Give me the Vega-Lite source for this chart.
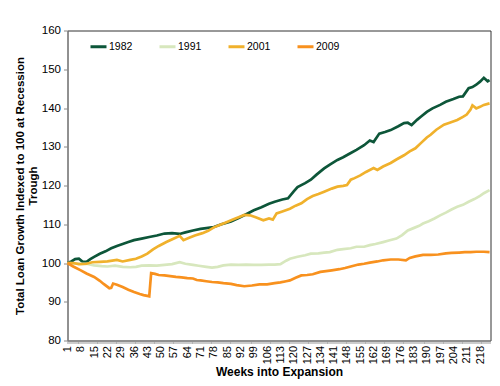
{
 "$schema": "https://vega.github.io/schema/vega-lite/v6.json",
 "width": 423, "height": 310,
 "autosize": "none",
 "padding": {"left": 67.5, "top": 30.5, "right": 9.5, "bottom": 45.5},
 "background": "white",
 "config": {"font": "Liberation Sans", "view": {"stroke": "#333", "strokeWidth": 1}},
 "data": {"values": [
{"s":"1982","w":1,"v":100},{"s":"1982","w":3,"v":100.4},{"s":"1982","w":5,"v":101},{"s":"1982","w":7,"v":101.1},{"s":"1982","w":9,"v":100.3},{"s":"1982","w":11,"v":100.3},{"s":"1982","w":13,"v":101},{"s":"1982","w":15,"v":101.6},{"s":"1982","w":18,"v":102.4},{"s":"1982","w":21,"v":103},{"s":"1982","w":24,"v":103.8},{"s":"1982","w":27,"v":104.4},{"s":"1982","w":30,"v":104.9},{"s":"1982","w":33,"v":105.4},{"s":"1982","w":36,"v":105.9},{"s":"1982","w":40,"v":106.3},{"s":"1982","w":44,"v":106.7},{"s":"1982","w":48,"v":107.1},{"s":"1982","w":52,"v":107.6},{"s":"1982","w":56,"v":107.7},{"s":"1982","w":60,"v":107.5},{"s":"1982","w":63,"v":107.9},{"s":"1982","w":67,"v":108.4},{"s":"1982","w":71,"v":108.8},{"s":"1982","w":74,"v":109},{"s":"1982","w":78,"v":109.3},{"s":"1982","w":82,"v":110},{"s":"1982","w":87,"v":110.7},{"s":"1982","w":91,"v":111.6},{"s":"1982","w":95,"v":112.6},{"s":"1982","w":99,"v":113.6},{"s":"1982","w":103,"v":114.4},{"s":"1982","w":107,"v":115.3},{"s":"1982","w":110,"v":115.8},{"s":"1982","w":114,"v":116.4},{"s":"1982","w":117,"v":116.7},{"s":"1982","w":120,"v":118.5},{"s":"1982","w":122,"v":119.6},{"s":"1982","w":126,"v":120.6},{"s":"1982","w":129,"v":121.5},{"s":"1982","w":132,"v":122.8},{"s":"1982","w":136,"v":124.4},{"s":"1982","w":139,"v":125.4},{"s":"1982","w":143,"v":126.6},{"s":"1982","w":146,"v":127.3},{"s":"1982","w":150,"v":128.4},{"s":"1982","w":153,"v":129.2},{"s":"1982","w":157,"v":130.4},{"s":"1982","w":160,"v":131.6},{"s":"1982","w":162,"v":131.2},{"s":"1982","w":165,"v":133.4},{"s":"1982","w":168,"v":133.8},{"s":"1982","w":171,"v":134.3},{"s":"1982","w":175,"v":135.3},{"s":"1982","w":178,"v":136.1},{"s":"1982","w":180,"v":136.2},{"s":"1982","w":182,"v":135.6},{"s":"1982","w":185,"v":137},{"s":"1982","w":187,"v":137.8},{"s":"1982","w":190,"v":139},{"s":"1982","w":193,"v":139.9},{"s":"1982","w":197,"v":140.8},{"s":"1982","w":200,"v":141.6},{"s":"1982","w":204,"v":142.3},{"s":"1982","w":207,"v":142.9},{"s":"1982","w":209,"v":143},{"s":"1982","w":212,"v":145.1},{"s":"1982","w":214,"v":145.4},{"s":"1982","w":216,"v":146},{"s":"1982","w":218,"v":146.8},{"s":"1982","w":220,"v":147.8},{"s":"1982","w":222,"v":146.9},{"s":"1982","w":223,"v":147.2},
{"s":"1991","w":1,"v":100},{"s":"1991","w":4,"v":99.9},{"s":"1991","w":8,"v":99.8},{"s":"1991","w":11,"v":99.8},{"s":"1991","w":15,"v":99.4},{"s":"1991","w":19,"v":99.2},{"s":"1991","w":22,"v":99.1},{"s":"1991","w":26,"v":99.3},{"s":"1991","w":30,"v":99},{"s":"1991","w":34,"v":98.9},{"s":"1991","w":37,"v":99},{"s":"1991","w":40,"v":99.3},{"s":"1991","w":44,"v":99.4},{"s":"1991","w":48,"v":99.3},{"s":"1991","w":52,"v":99.5},{"s":"1991","w":56,"v":99.7},{"s":"1991","w":60,"v":100.2},{"s":"1991","w":63,"v":99.8},{"s":"1991","w":67,"v":99.5},{"s":"1991","w":70,"v":99.3},{"s":"1991","w":74,"v":99},{"s":"1991","w":77,"v":98.8},{"s":"1991","w":80,"v":99},{"s":"1991","w":83,"v":99.4},{"s":"1991","w":87,"v":99.6},{"s":"1991","w":91,"v":99.5},{"s":"1991","w":95,"v":99.6},{"s":"1991","w":99,"v":99.5},{"s":"1991","w":103,"v":99.5},{"s":"1991","w":107,"v":99.6},{"s":"1991","w":110,"v":99.6},{"s":"1991","w":113,"v":99.7},{"s":"1991","w":116,"v":100.6},{"s":"1991","w":118,"v":101.1},{"s":"1991","w":122,"v":101.6},{"s":"1991","w":126,"v":102},{"s":"1991","w":129,"v":102.4},{"s":"1991","w":133,"v":102.5},{"s":"1991","w":136,"v":102.7},{"s":"1991","w":139,"v":102.8},{"s":"1991","w":143,"v":103.4},{"s":"1991","w":146,"v":103.6},{"s":"1991","w":150,"v":103.8},{"s":"1991","w":153,"v":104.2},{"s":"1991","w":157,"v":104.2},{"s":"1991","w":160,"v":104.6},{"s":"1991","w":163,"v":104.9},{"s":"1991","w":167,"v":105.4},{"s":"1991","w":170,"v":105.8},{"s":"1991","w":174,"v":106.3},{"s":"1991","w":177,"v":107.2},{"s":"1991","w":180,"v":108.4},{"s":"1991","w":183,"v":109},{"s":"1991","w":186,"v":109.6},{"s":"1991","w":188,"v":110.2},{"s":"1991","w":191,"v":110.8},{"s":"1991","w":194,"v":111.5},{"s":"1991","w":197,"v":112.3},{"s":"1991","w":200,"v":113},{"s":"1991","w":203,"v":113.8},{"s":"1991","w":206,"v":114.5},{"s":"1991","w":209,"v":115},{"s":"1991","w":212,"v":115.8},{"s":"1991","w":215,"v":116.5},{"s":"1991","w":218,"v":117.3},{"s":"1991","w":220,"v":118},{"s":"1991","w":223,"v":118.8},
{"s":"2001","w":1,"v":100},{"s":"2001","w":4,"v":100},{"s":"2001","w":7,"v":99.7},{"s":"2001","w":11,"v":99.8},{"s":"2001","w":14,"v":100.2},{"s":"2001","w":18,"v":100.3},{"s":"2001","w":22,"v":100.4},{"s":"2001","w":27,"v":100.8},{"s":"2001","w":30,"v":100.4},{"s":"2001","w":34,"v":100.8},{"s":"2001","w":37,"v":101.1},{"s":"2001","w":40,"v":101.7},{"s":"2001","w":43,"v":102.4},{"s":"2001","w":46,"v":103.5},{"s":"2001","w":49,"v":104.4},{"s":"2001","w":53,"v":105.4},{"s":"2001","w":57,"v":106.3},{"s":"2001","w":60,"v":107},{"s":"2001","w":62,"v":105.9},{"s":"2001","w":65,"v":106.5},{"s":"2001","w":68,"v":107.1},{"s":"2001","w":72,"v":107.7},{"s":"2001","w":75,"v":108.3},{"s":"2001","w":78,"v":109.2},{"s":"2001","w":81,"v":109.8},{"s":"2001","w":84,"v":110.4},{"s":"2001","w":88,"v":111.2},{"s":"2001","w":91,"v":111.8},{"s":"2001","w":94,"v":112.4},{"s":"2001","w":97,"v":112.3},{"s":"2001","w":100,"v":111.8},{"s":"2001","w":102,"v":111.4},{"s":"2001","w":104,"v":111},{"s":"2001","w":107,"v":111.5},{"s":"2001","w":109,"v":111.2},{"s":"2001","w":111,"v":112.8},{"s":"2001","w":114,"v":113.3},{"s":"2001","w":118,"v":114},{"s":"2001","w":121,"v":114.8},{"s":"2001","w":124,"v":115.4},{"s":"2001","w":127,"v":116.5},{"s":"2001","w":130,"v":117.3},{"s":"2001","w":133,"v":117.8},{"s":"2001","w":136,"v":118.4},{"s":"2001","w":140,"v":119.2},{"s":"2001","w":143,"v":119.7},{"s":"2001","w":146,"v":119.9},{"s":"2001","w":148,"v":120.1},{"s":"2001","w":150,"v":121.5},{"s":"2001","w":152,"v":121.9},{"s":"2001","w":155,"v":122.6},{"s":"2001","w":158,"v":123.5},{"s":"2001","w":162,"v":124.5},{"s":"2001","w":164,"v":124},{"s":"2001","w":167,"v":124.9},{"s":"2001","w":171,"v":125.8},{"s":"2001","w":174,"v":126.7},{"s":"2001","w":178,"v":127.8},{"s":"2001","w":181,"v":128.8},{"s":"2001","w":184,"v":129.6},{"s":"2001","w":187,"v":131},{"s":"2001","w":190,"v":132.4},{"s":"2001","w":192,"v":133.1},{"s":"2001","w":195,"v":134.4},{"s":"2001","w":199,"v":135.7},{"s":"2001","w":202,"v":136.2},{"s":"2001","w":206,"v":136.9},{"s":"2001","w":209,"v":137.7},{"s":"2001","w":211,"v":138.3},{"s":"2001","w":213,"v":139.6},{"s":"2001","w":214,"v":140.7},{"s":"2001","w":216,"v":139.9},{"s":"2001","w":218,"v":140.3},{"s":"2001","w":220,"v":140.8},{"s":"2001","w":223,"v":141.2},
{"s":"2009","w":1,"v":100},{"s":"2009","w":4,"v":99.1},{"s":"2009","w":8,"v":98.1},{"s":"2009","w":11,"v":97.3},{"s":"2009","w":15,"v":96.4},{"s":"2009","w":18,"v":95.4},{"s":"2009","w":20,"v":94.6},{"s":"2009","w":23,"v":93.5},{"s":"2009","w":24,"v":93.6},{"s":"2009","w":25,"v":94.7},{"s":"2009","w":27,"v":94.4},{"s":"2009","w":30,"v":93.8},{"s":"2009","w":33,"v":93.1},{"s":"2009","w":36,"v":92.5},{"s":"2009","w":39,"v":92},{"s":"2009","w":41,"v":91.7},{"s":"2009","w":43,"v":91.5},{"s":"2009","w":44,"v":91.4},{"s":"2009","w":45,"v":97.4},{"s":"2009","w":47,"v":97.2},{"s":"2009","w":49,"v":96.9},{"s":"2009","w":52,"v":96.8},{"s":"2009","w":55,"v":96.6},{"s":"2009","w":58,"v":96.4},{"s":"2009","w":61,"v":96.3},{"s":"2009","w":64,"v":96.1},{"s":"2009","w":67,"v":96},{"s":"2009","w":69,"v":95.6},{"s":"2009","w":71,"v":95.5},{"s":"2009","w":74,"v":95.3},{"s":"2009","w":77,"v":95.1},{"s":"2009","w":80,"v":95},{"s":"2009","w":83,"v":94.8},{"s":"2009","w":87,"v":94.6},{"s":"2009","w":90,"v":94.3},{"s":"2009","w":94,"v":94},{"s":"2009","w":98,"v":94.2},{"s":"2009","w":102,"v":94.5},{"s":"2009","w":106,"v":94.5},{"s":"2009","w":110,"v":94.8},{"s":"2009","w":113,"v":95},{"s":"2009","w":116,"v":95.3},{"s":"2009","w":118,"v":95.5},{"s":"2009","w":121,"v":96.2},{"s":"2009","w":124,"v":96.8},{"s":"2009","w":127,"v":96.9},{"s":"2009","w":130,"v":97.1},{"s":"2009","w":134,"v":97.7},{"s":"2009","w":137,"v":97.9},{"s":"2009","w":140,"v":98.1},{"s":"2009","w":144,"v":98.4},{"s":"2009","w":147,"v":98.7},{"s":"2009","w":150,"v":99.1},{"s":"2009","w":154,"v":99.6},{"s":"2009","w":157,"v":99.8},{"s":"2009","w":160,"v":100.1},{"s":"2009","w":164,"v":100.4},{"s":"2009","w":167,"v":100.7},{"s":"2009","w":171,"v":100.9},{"s":"2009","w":175,"v":100.9},{"s":"2009","w":179,"v":100.7},{"s":"2009","w":181,"v":101.3},{"s":"2009","w":184,"v":101.7},{"s":"2009","w":188,"v":102.1},{"s":"2009","w":192,"v":102.1},{"s":"2009","w":196,"v":102.2},{"s":"2009","w":200,"v":102.5},{"s":"2009","w":203,"v":102.6},{"s":"2009","w":207,"v":102.7},{"s":"2009","w":210,"v":102.8},{"s":"2009","w":213,"v":102.8},{"s":"2009","w":216,"v":102.9},{"s":"2009","w":220,"v":102.9},{"s":"2009","w":223,"v":102.8}
 ]},
 "mark": {"type": "line", "strokeWidth": 2.7},
 "encoding": {
  "x": {"field": "w", "type": "quantitative",
   "scale": {"domain": [1, 223.5], "nice": false, "zero": false},
   "axis": {"title": "Weeks into Expansion", "tickCount": 223, "labelExpr": "round(datum.value - 1) % 7 == 0 ? format(round(datum.value), 'd') : ''",
    "labelAngle": -90, "labelAlign": "right", "labelBaseline": "middle", "labelOverlap": false, "labelFlush": false,
    "labelFontSize": 11, "labelColor": "#000", "labelPadding": 2, "tickSize": 3, "tickColor": "#999", "domainColor": "#888",
    "grid": false, "titleFontSize": 12, "titleFontWeight": "bold", "titleColor": "#000", "titleBaseline": "middle", "titleY": 31}},
  "y": {"field": "v", "type": "quantitative",
   "scale": {"domain": [80, 160], "nice": false, "zero": false},
   "axis": {"values": [80, 90, 100, 110, 120, 130, 140, 150, 160], "grid": false, "tickSize": 4, "tickColor": "#888", "domainColor": "#888",
    "labelFontSize": 11.5, "labelColor": "#000", "labelPadding": 3, "labelFlush": false,
    "title": ["Total Loan Growth Indexed to 100 at Recession", "Trough"], "titleFontSize": 11.5, "titleFontWeight": "bold", "titleColor": "#000",
    "titleAngle": -90, "titleAlign": "center", "titleBaseline": "middle", "titleX": -47.5, "titleY": 155, "titleLineHeight": 13}},
  "color": {"field": "s", "type": "nominal",
   "scale": {"domain": ["1982", "1991", "2001", "2009"], "range": ["#0d5639", "#d7e7bd", "#f0b12c", "#f8911e"]},
   "legend": {"title": null, "orient": "none", "legendX": 21.5, "legendY": 6.5, "direction": "horizontal", "padding": 0,
    "symbolType": "stroke", "symbolSize": 256, "symbolStrokeWidth": 3, "labelFontSize": 10.5, "labelColor": "#000",
    "labelOffset": 1, "columnPadding": 20}}
 }
}
